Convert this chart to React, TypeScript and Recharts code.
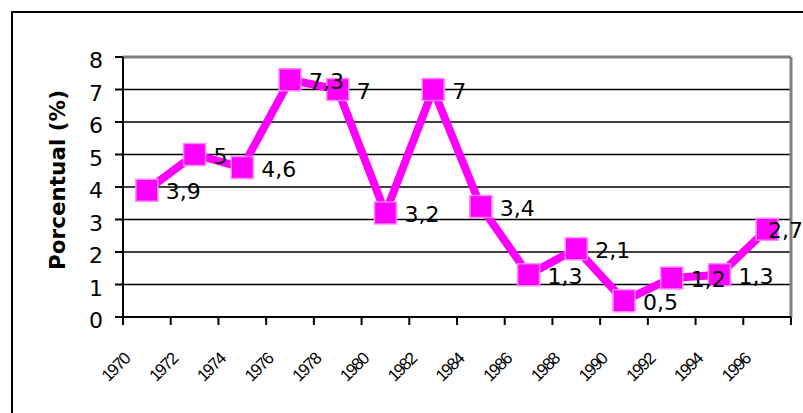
import React from 'react';
import { LineChart, Line, XAxis, YAxis, CartesianGrid, ReferenceLine, LabelList } from 'recharts';

// Midpoint years of each plotted period (points sit between the labelled ticks)
const years = [1971, 1973, 1975, 1977, 1979, 1981, 1983, 1985, 1987, 1989, 1991, 1993, 1995, 1997];
const percentages = [3.9, 5, 4.6, 7.3, 7, 3.2, 7, 3.4, 1.3, 2.1, 0.5, 1.2, 1.3, 2.7];
const xTicks = [1970, 1972, 1974, 1976, 1978, 1980, 1982, 1984, 1986, 1988, 1990, 1992, 1994, 1996, 1998];
const xTickLabels = ['1970', '1972', '1974', '1976', '1978', '1980', '1982', '1984', '1986', '1988', '1990', '1992', '1994', '1996', ''];
const yTicks = [0, 1, 2, 3, 4, 5, 6, 7, 8];
const yAxisTitle = 'Porcentual (%)';

const data = years.map((year, i) => ({ year, value: percentages[i] }));

const W = 803;
const H = 413;
const MAGENTA = '#FF00FF';
const NUM_FONT = '"DejaVu Sans", Verdana, sans-serif';

const XTick = (props: any) => {
  const { x, y, payload } = props;
  const idx = xTicks.indexOf(payload.value);
  const label = idx >= 0 ? xTickLabels[idx] : '';
  const ax = x + 8;
  const ay = y + 33;
  return (
    <text
      x={ax}
      y={ay}
      textAnchor="end"
      fontSize={17}
      letterSpacing={-1.5}
      fontFamily='"Liberation Sans", Arial, sans-serif'
      fill="#000"
      transform={`rotate(-45 ${ax} ${ay})`}
    >
      {label}
    </text>
  );
};

const YTick = (props: any) => {
  const { x, y, payload } = props;
  return (
    <text x={x} y={y} dy={11} textAnchor="end" fontSize={22} fontFamily={NUM_FONT} fill="#000">
      {payload.value}
    </text>
  );
};

const SquareDot = (props: any) => {
  const { cx, cy, index } = props;
  if (cx == null || cy == null) return <g key={`d-${index}`} />;
  return (
    <rect
      key={`d-${index}`}
      x={cx - 11}
      y={cy - 11}
      width={22}
      height={22}
      fill={MAGENTA}
      stroke="#FF88FF"
      strokeWidth={1.5}
    />
  );
};

const renderValueLabel = (props: any) => {
  const px = props.x ?? props.viewBox?.x;
  const py = props.y ?? props.viewBox?.y;
  const value = props.value;
  if (px == null || py == null || value == null) return null;
  const text = String(value).replace('.', ',');
  const fs = 22;
  const w = text.split('').reduce((s, c) => s + (c === ',' ? 0.318 : 0.636) * fs, 0);
  let lx = px + 19;
  if (lx + w > W) lx = W - w;
  return (
    <text key={`l-${props.index}`} x={lx} y={py} dy={9} fontSize={fs} fontFamily={NUM_FONT} fill="#000">
      {text}
    </text>
  );
};

const YTitle = (props: any) => {
  const vb = props.viewBox || { x: 0, y: 57, width: 123, height: 260 };
  const cx = vb.x + 57;
  const cy = vb.y + vb.height / 2 - 7;
  return (
    <text
      x={cx}
      y={cy}
      textAnchor="middle"
      dominantBaseline="central"
      fontSize={21.5}
      fontWeight="bold"
      fontFamily={NUM_FONT}
      fill="#000"
      transform={`rotate(-90 ${cx} ${cy})`}
    >
      {yAxisTitle}
    </text>
  );
};

export default function App() {
  return (
    <div style={{ position: 'absolute', left: 0, top: 0, width: W, height: H, overflow: 'hidden', background: '#fff' }}>
      <div
        style={{
          position: 'absolute',
          left: 11,
          top: 11,
          width: 1000,
          height: 1000,
          borderLeft: '2px solid #000',
          borderTop: '2px solid #000',
        }}
      />
      <div style={{ position: 'absolute', left: 0, top: 0 }}>
        <LineChart width={W} height={H} data={data} margin={{ top: 57, right: 12, bottom: 0, left: 0 }}>
          <CartesianGrid vertical={false} stroke="#000" strokeWidth={1.5} strokeDasharray="" />
          <XAxis
            dataKey="year"
            type="number"
            domain={[1970, 1998]}
            ticks={xTicks}
            interval={0}
            height={96}
            tickSize={8}
            tickMargin={2}
            axisLine={{ stroke: '#000', strokeWidth: 2 }}
            tickLine={{ stroke: '#000', strokeWidth: 2 }}
            tick={<XTick />}
            allowDecimals={false}
          />
          <YAxis
            type="number"
            domain={[0, 8]}
            ticks={yTicks}
            interval={0}
            width={123}
            tickSize={8}
            tickMargin={12}
            axisLine={{ stroke: '#000', strokeWidth: 2 }}
            tickLine={{ stroke: '#000', strokeWidth: 2 }}
            tick={<YTick />}
            label={<YTitle />}
          />
          <ReferenceLine y={8} stroke="#808080" strokeWidth={3} />
          <ReferenceLine x={1998} stroke="#808080" strokeWidth={3} />
          <Line
            type="linear"
            dataKey="value"
            stroke={MAGENTA}
            strokeWidth={8}
            dot={(p: any) => <SquareDot {...p} />}
            activeDot={false}
            isAnimationActive={false}
          >
            <LabelList dataKey="value" content={renderValueLabel} />
          </Line>
        </LineChart>
      </div>
    </div>
  );
}
